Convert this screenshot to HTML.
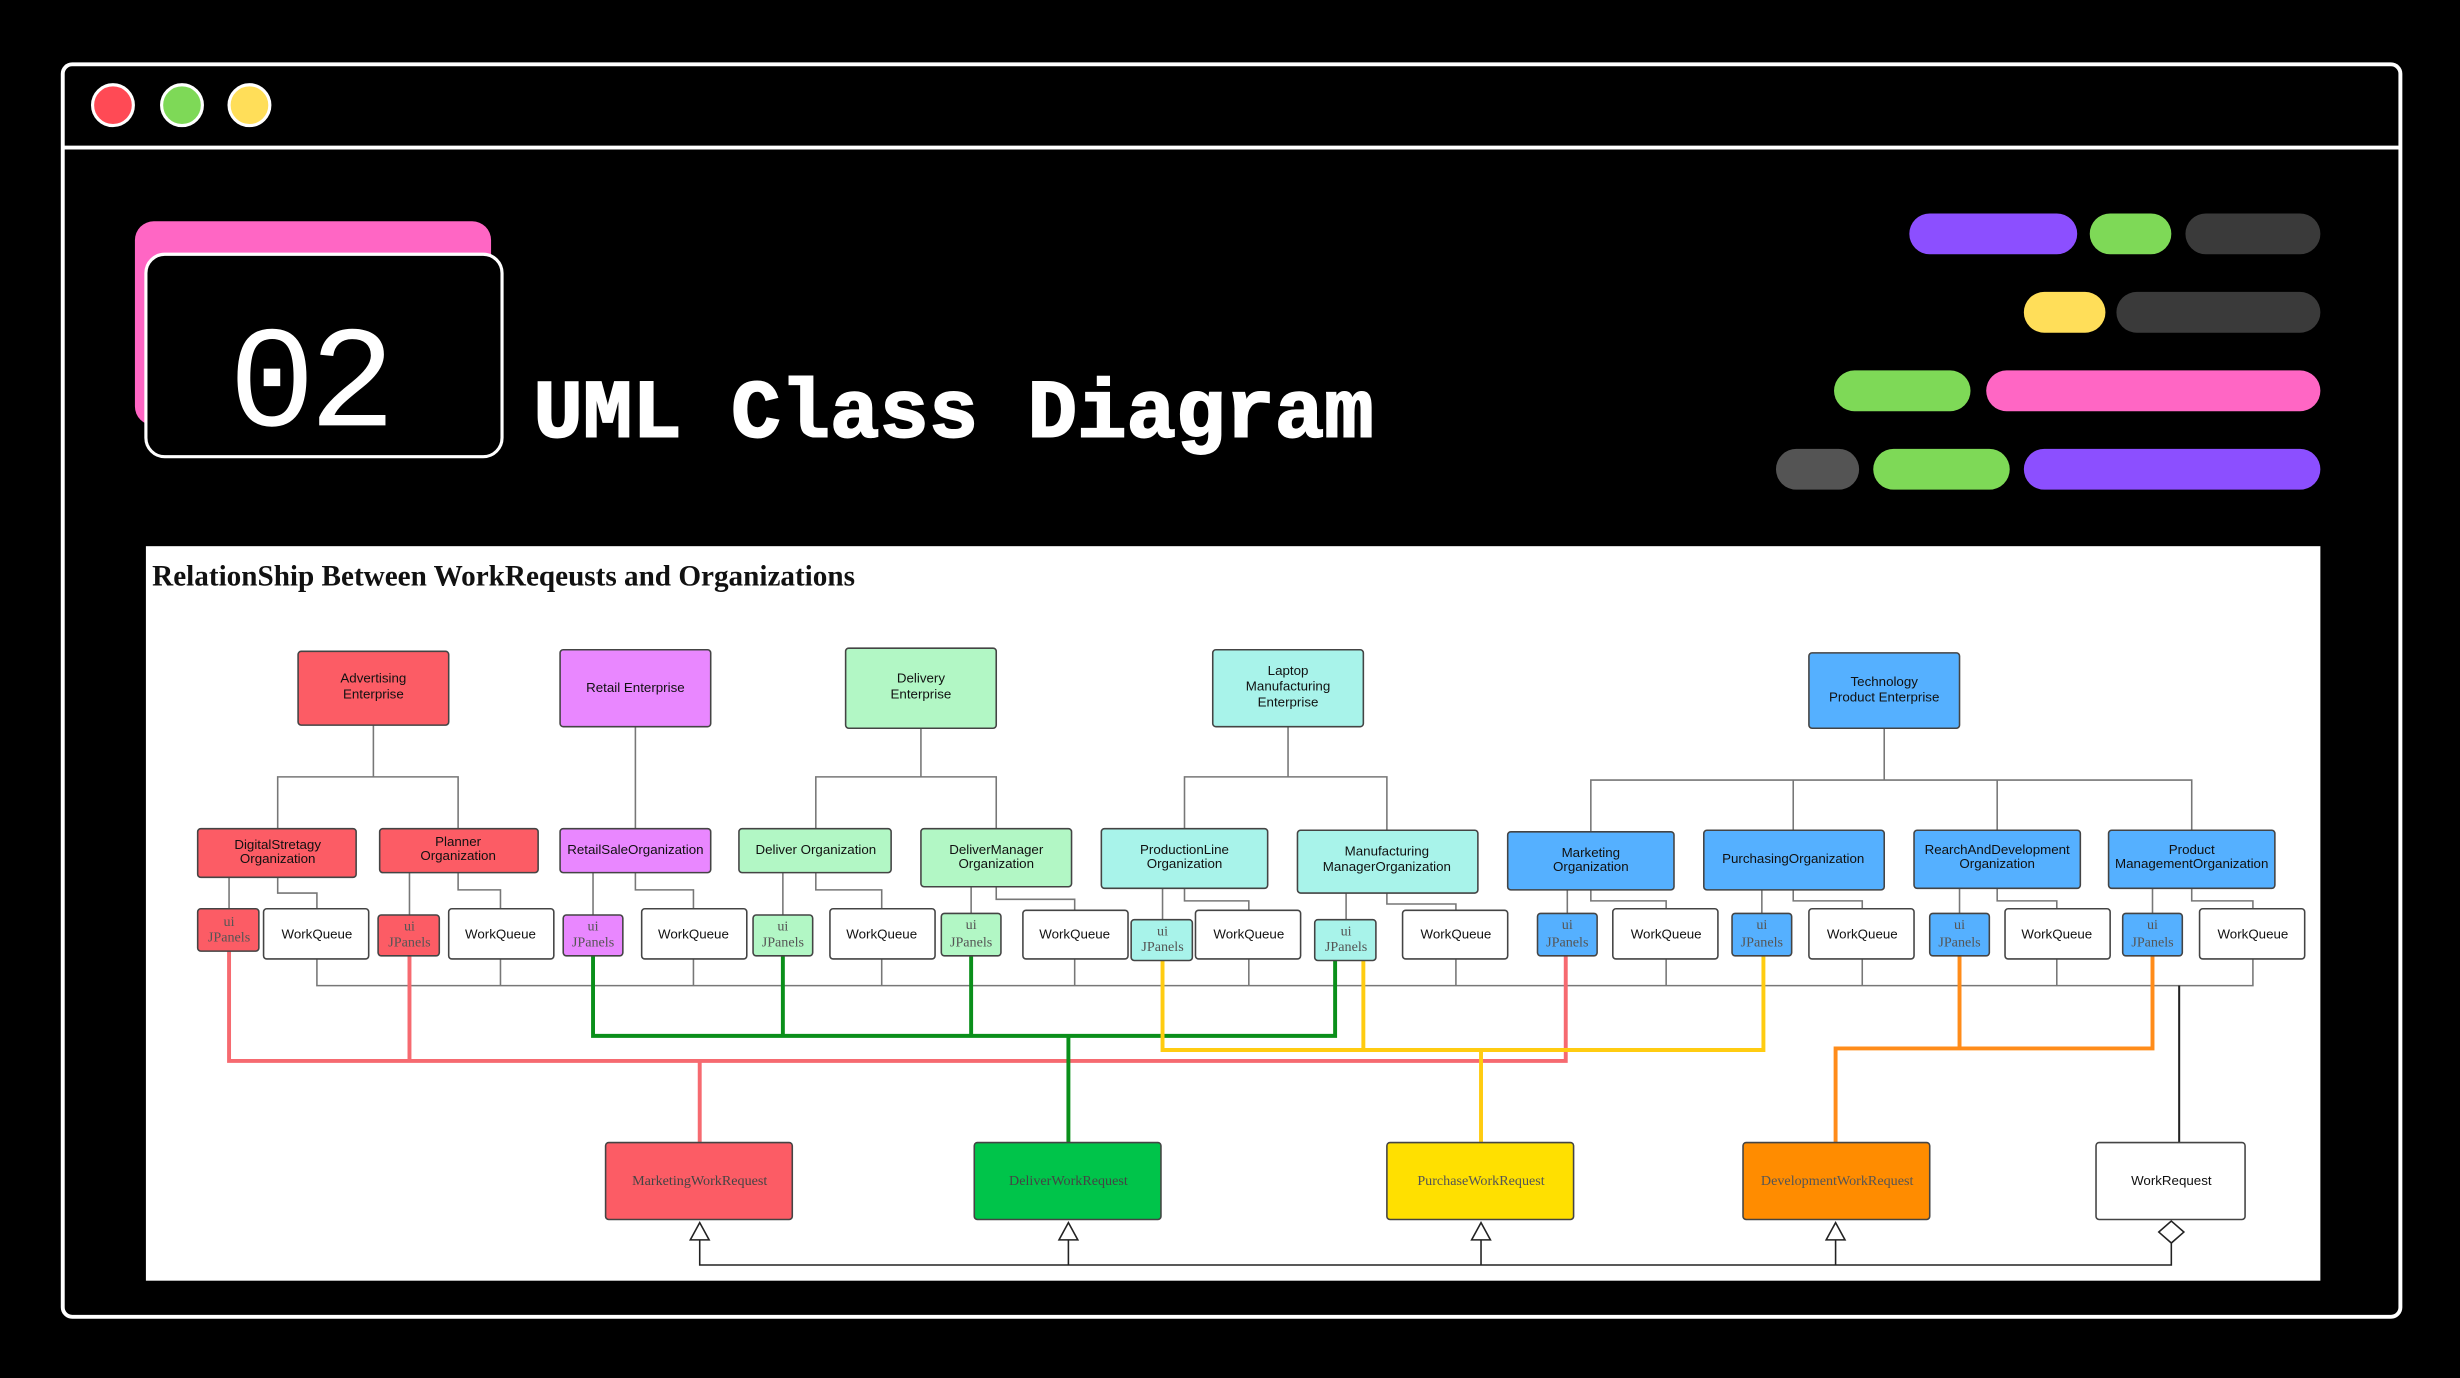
<!DOCTYPE html>
<html><head><meta charset="utf-8"><style>
html,body{margin:0;padding:0;background:#000;width:2460px;height:1378px;overflow:hidden}
svg{display:block}
.t{font-family:"Liberation Sans",sans-serif;font-size:8.5px;fill:#111;text-anchor:middle}
.s{font-family:"Liberation Serif",serif;font-size:9px;text-anchor:middle}
.b{stroke:#444;stroke-width:1}
.g{fill:none;stroke:#777;stroke-width:1}
</style></head><body>
<svg width="2460" height="1378" viewBox="0 0 1568 878" preserveAspectRatio="none" xmlns="http://www.w3.org/2000/svg">
<rect width="1568" height="878" fill="#000"/>
<rect x="40" y="41" width="1490" height="798" rx="6" fill="#000" stroke="#fff" stroke-width="2.5"/>
<line x1="41" y1="94" x2="1529" y2="94" stroke="#fff" stroke-width="2.5"/>
<circle cx="72" cy="67" r="13" fill="#ff4a55" stroke="#fff" stroke-width="2"/>
<circle cx="116" cy="67" r="13" fill="#7ed957" stroke="#fff" stroke-width="2"/>
<circle cx="159" cy="67" r="13" fill="#ffde59" stroke="#fff" stroke-width="2"/>
<rect x="86" y="141" width="227" height="130" rx="12" fill="#ff66c4"/>
<rect x="93" y="162" width="227" height="129" rx="12" fill="#000" stroke="#fff" stroke-width="2"/>
<text x="197" y="271" font-family="Liberation Mono,monospace" font-size="92" fill="#fff" text-anchor="middle" letter-spacing="-4">02</text>
<text x="340" y="278" font-family="Liberation Mono,monospace" font-weight="bold" font-size="52.5" fill="#fff" stroke="#fff" stroke-width="1.2">UML Class Diagram</text>
<g>
<rect x="1217" y="136" width="107" height="26" rx="13" fill="#8c4fff"/>
<rect x="1332" y="136" width="52" height="26" rx="13" fill="#7ed957"/>
<rect x="1393" y="136" width="86" height="26" rx="13" fill="#3a3a3a"/>
<rect x="1290" y="186" width="52" height="26" rx="13" fill="#ffde59"/>
<rect x="1349" y="186" width="130" height="26" rx="13" fill="#3a3a3a"/>
<rect x="1169" y="236" width="87" height="26" rx="13" fill="#7ed957"/>
<rect x="1266" y="236" width="213" height="26" rx="13" fill="#ff66c4"/>
<rect x="1132" y="286" width="53" height="26" rx="13" fill="#545454"/>
<rect x="1194" y="286" width="87" height="26" rx="13" fill="#7ed957"/>
<rect x="1290" y="286" width="189" height="26" rx="13" fill="#8c4fff"/>
</g>
<rect x="93" y="348" width="1386" height="468" fill="#fff"/>
<text x="97" y="373" font-family="Liberation Serif,serif" font-weight="bold" font-size="18.6" fill="#111">RelationShip Between WorkReqeusts and Organizations</text>

<g class="g">
<path d="M238 462V495M177 528V495H292V528"/>
<path d="M405 463V528"/>
<path d="M587 464V495M520 528V495H635V528"/>
<path d="M821 463V495M755 528V495H884V529"/>
<path d="M1201 464V497M1014 530V497H1397V529M1143 497V529M1273 497V529"/>
<path d="M146 559V579M177 559V569H202V579"/>
<path d="M261 556V583M292 556V567H319V579"/>
<path d="M378 556V583M405 556V567H442V579"/>
<path d="M499 556V583M520 556V567H562V579"/>
<path d="M619 565V582M635 565V573H685V580"/>
<path d="M741 566V586M755 566V574H796V580"/>
<path d="M858 569V586M884 569V576H928V580"/>
<path d="M999 567V582M1014 567V574H1062V579"/>
<path d="M1123 567V582M1143 567V574H1187V579"/>
<path d="M1249 566V582M1273 566V574H1311V579"/>
<path d="M1372 566V582M1397 566V574H1436V579"/>
<path d="M202 611V628H1436V611M319 611V628M442 611V628M562 611V628M685 611V628M796 611V628M928 611V628M1062 611V628M1187 611V628M1311 611V628"/>
</g>
<path d="M1389 628V728" stroke="#222" stroke-width="1.3" fill="none"/>

<path d="M146 606V676H998V609M261 609V676M446 676V728" fill="none" stroke="#f66a70" stroke-width="2.5"/>
<path d="M378 609V660H851V612M499 609V660M619 609V660M681 660V728" fill="none" stroke="#0a8f1a" stroke-width="2.5"/>
<path d="M741 612V669H1124V609M869 612V669M944 669V728" fill="none" stroke="#ffcc11" stroke-width="2.5"/>
<path d="M1249 609V668M1372 609V668H1170V728" fill="none" stroke="#ff8c1a" stroke-width="2.5"/>

<rect class="b" x="190" y="415" width="96" height="47" rx="2" fill="#fc5c65"/>
<text class="t" x="238" y="435">Advertising</text><text class="t" x="238" y="445">Enterprise</text>
<rect class="b" x="357" y="414" width="96" height="49" rx="2" fill="#e987ff"/>
<text class="t" x="405" y="441">Retail Enterprise</text>
<rect class="b" x="539" y="413" width="96" height="51" rx="2" fill="#b2f7c5"/>
<text class="t" x="587" y="435">Delivery</text><text class="t" x="587" y="445">Enterprise</text>
<rect class="b" x="773" y="414" width="96" height="49" rx="2" fill="#a8f3ea"/>
<text class="t" x="821" y="430">Laptop</text><text class="t" x="821" y="440">Manufacturing</text><text class="t" x="821" y="450">Enterprise</text>
<rect class="b" x="1153" y="416" width="96" height="48" rx="2" fill="#55b0ff"/>
<text class="t" x="1201" y="437">Technology</text><text class="t" x="1201" y="447">Product Enterprise</text>

<g>
<rect class="b" x="126" y="528" width="101" height="31" rx="2" fill="#fc5c65"/>
<text class="t" x="177" y="541" font-size="7.5">DigitalStretagy</text><text class="t" x="177" y="550" font-size="7.5">Organization</text>
<rect class="b" x="242" y="528" width="101" height="28" rx="2" fill="#fc5c65"/>
<text class="t" x="292" y="539" font-size="7.5">Planner</text><text class="t" x="292" y="548" font-size="7.5">Organization</text>
<rect class="b" x="357" y="528" width="96" height="28" rx="2" fill="#e987ff"/>
<text class="t" x="405" y="544" font-size="7.5">RetailSaleOrganization</text>
<rect class="b" x="471" y="528" width="97" height="28" rx="2" fill="#b2f7c5"/>
<text class="t" x="520" y="544" font-size="7.5">Deliver Organization</text>
<rect class="b" x="587" y="528" width="96" height="37" rx="2" fill="#b2f7c5"/>
<text class="t" x="635" y="544" font-size="7.5">DeliverManager</text><text class="t" x="635" y="553" font-size="7.5">Organization</text>
<rect class="b" x="702" y="528" width="106" height="38" rx="2" fill="#a8f3ea"/>
<text class="t" x="755" y="544" font-size="7.5">ProductionLine</text><text class="t" x="755" y="553" font-size="7.5">Organization</text>
<rect class="b" x="827" y="529" width="115" height="40" rx="2" fill="#a8f3ea"/>
<text class="t" x="884" y="545" font-size="9">Manufacturing</text><text class="t" x="884" y="555" font-size="9">ManagerOrganization</text>
<rect class="b" x="961" y="530" width="106" height="37" rx="2" fill="#55b0ff"/>
<text class="t" x="1014" y="546" font-size="7.5">Marketing</text><text class="t" x="1014" y="555" font-size="7.5">Organization</text>
<rect class="b" x="1086" y="529" width="115" height="38" rx="2" fill="#55b0ff"/>
<text class="t" x="1143" y="550" font-size="7.5">PurchasingOrganization</text>
<rect class="b" x="1220" y="529" width="106" height="37" rx="2" fill="#55b0ff"/>
<text class="t" x="1273" y="544" font-size="7.5">RearchAndDevelopment</text><text class="t" x="1273" y="553" font-size="7.5">Organization</text>
<rect class="b" x="1344" y="529" width="106" height="37" rx="2" fill="#55b0ff"/>
<text class="t" x="1397" y="544" font-size="7.5">Product</text><text class="t" x="1397" y="553" font-size="7.5">ManagementOrganization</text>
</g>

<g>
<rect class="b" x="126" y="579" width="39" height="27" rx="2" fill="#fc5c65"/><text class="s" x="146" y="590" fill="#555">ui</text><text class="s" x="146" y="600" fill="#555">JPanels</text>
<rect class="b" x="241" y="583" width="39" height="26" rx="2" fill="#fc5c65"/><text class="s" x="261" y="593" fill="#555">ui</text><text class="s" x="261" y="603" fill="#555">JPanels</text>
<rect class="b" x="359" y="583" width="38" height="26" rx="2" fill="#e987ff"/><text class="s" x="378" y="593" fill="#555">ui</text><text class="s" x="378" y="603" fill="#555">JPanels</text>
<rect class="b" x="480" y="583" width="38" height="26" rx="2" fill="#b2f7c5"/><text class="s" x="499" y="593" fill="#555">ui</text><text class="s" x="499" y="603" fill="#555">JPanels</text>
<rect class="b" x="600" y="582" width="38" height="27" rx="2" fill="#b2f7c5"/><text class="s" x="619" y="592" fill="#555">ui</text><text class="s" x="619" y="603" fill="#555">JPanels</text>
<rect class="b" x="721" y="586" width="39" height="26" rx="2" fill="#a8f3ea"/><text class="s" x="741" y="596" fill="#555">ui</text><text class="s" x="741" y="606" fill="#555">JPanels</text>
<rect class="b" x="838" y="586" width="39" height="26" rx="2" fill="#a8f3ea"/><text class="s" x="858" y="596" fill="#555">ui</text><text class="s" x="858" y="606" fill="#555">JPanels</text>
<rect class="b" x="980" y="582" width="38" height="27" rx="2" fill="#55b0ff"/><text class="s" x="999" y="592" fill="#555">ui</text><text class="s" x="999" y="603" fill="#555">JPanels</text>
<rect class="b" x="1104" y="582" width="38" height="27" rx="2" fill="#55b0ff"/><text class="s" x="1123" y="592" fill="#555">ui</text><text class="s" x="1123" y="603" fill="#555">JPanels</text>
<rect class="b" x="1230" y="582" width="38" height="27" rx="2" fill="#55b0ff"/><text class="s" x="1249" y="592" fill="#555">ui</text><text class="s" x="1249" y="603" fill="#555">JPanels</text>
<rect class="b" x="1353" y="582" width="38" height="27" rx="2" fill="#55b0ff"/><text class="s" x="1372" y="592" fill="#555">ui</text><text class="s" x="1372" y="603" fill="#555">JPanels</text>
</g>

<g>
<rect class="b" x="168" y="579" width="67" height="32" rx="2" fill="#fff"/><text class="t" x="202" y="598" font-size="9.5">WorkQueue</text>
<rect class="b" x="286" y="579" width="67" height="32" rx="2" fill="#fff"/><text class="t" x="319" y="598" font-size="9.5">WorkQueue</text>
<rect class="b" x="409" y="579" width="67" height="32" rx="2" fill="#fff"/><text class="t" x="442" y="598" font-size="9.5">WorkQueue</text>
<rect class="b" x="529" y="579" width="67" height="32" rx="2" fill="#fff"/><text class="t" x="562" y="598" font-size="9.5">WorkQueue</text>
<rect class="b" x="652" y="580" width="67" height="31" rx="2" fill="#fff"/><text class="t" x="685" y="598" font-size="9.5">WorkQueue</text>
<rect class="b" x="762" y="580" width="67" height="31" rx="2" fill="#fff"/><text class="t" x="796" y="598" font-size="9.5">WorkQueue</text>
<rect class="b" x="894" y="580" width="67" height="31" rx="2" fill="#fff"/><text class="t" x="928" y="598" font-size="9.5">WorkQueue</text>
<rect class="b" x="1028" y="579" width="67" height="32" rx="2" fill="#fff"/><text class="t" x="1062" y="598" font-size="9.5">WorkQueue</text>
<rect class="b" x="1153" y="579" width="67" height="32" rx="2" fill="#fff"/><text class="t" x="1187" y="598" font-size="9.5">WorkQueue</text>
<rect class="b" x="1278" y="579" width="67" height="32" rx="2" fill="#fff"/><text class="t" x="1311" y="598" font-size="9.5">WorkQueue</text>
<rect class="b" x="1402" y="579" width="67" height="32" rx="2" fill="#fff"/><text class="t" x="1436" y="598" font-size="9.5">WorkQueue</text>
</g>

<rect class="b" x="386" y="728" width="119" height="49" rx="2" fill="#fc5c65"/><text class="s" x="446" y="755" fill="#444">MarketingWorkRequest</text>
<rect class="b" x="621" y="728" width="119" height="49" rx="2" fill="#00c44a"/><text class="s" x="681" y="755" fill="#444">DeliverWorkRequest</text>
<rect class="b" x="884" y="728" width="119" height="49" rx="2" fill="#ffe000"/><text class="s" x="944" y="755" fill="#555">PurchaseWorkRequest</text>
<rect class="b" x="1111" y="728" width="119" height="49" rx="2" fill="#ff8c00"/><text class="s" x="1171" y="755" fill="#555">DevelopmentWorkRequest</text>
<rect class="b" x="1336" y="728" width="95" height="49" rx="2" fill="#fff"/><text class="t" x="1384" y="755" font-size="9.5">WorkRequest</text>

<g fill="#fff" stroke="#222" stroke-width="1">
<path d="M446 790V806H1384V792M681 790V806M944 790V806M1170 790V806" fill="none"/>
<path d="M446 779L440 790H452Z"/>
<path d="M681 779L675 790H687Z"/>
<path d="M944 779L938 790H950Z"/>
<path d="M1170 779L1164 790H1176Z"/>
<path d="M1384 778L1392 785L1384 792L1376 785Z"/>
</g>
</svg>
</body></html>
